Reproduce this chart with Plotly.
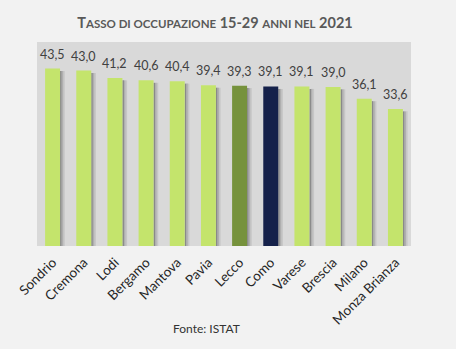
import plotly.graph_objects as go

provinces = ["Sondrio", "Cremona", "Lodi", "Bergamo", "Mantova", "Pavia",
             "Lecco", "Como", "Varese", "Brescia", "Milano", "Monza Brianza"]
values = [43.5, 43.0, 41.2, 40.6, 40.4, 39.4, 39.3, 39.1, 39.1, 39.0, 36.1, 33.6]
labels = ["43,5", "43,0", "41,2", "40,6", "40,4", "39,4", "39,3", "39,1", "39,1", "39,0", "36,1", "33,6"]
highlight = {"Lecco": "#76923c", "Como": "#15214a"}
base_color = "#c4e46c"

colors = [highlight.get(p, base_color) for p in provinces]

fig = go.Figure()

# soft shadow on the right of each bar
shadow_steps = [(0.24, "rgba(110,110,110,0.75)"), (0.29, "rgba(140,140,140,0.55)"),
                (0.34, "rgba(170,170,170,0.4)")]
for off, col in shadow_steps:
    fig.add_trace(go.Bar(
        x=provinces, y=[v - 0.6 for v in values], width=0.05, offset=off,
        marker=dict(color=col, line=dict(width=0)), hoverinfo="skip", showlegend=False))

fig.add_trace(go.Bar(
    x=provinces, y=values, width=0.48, offset=-0.24,
    marker=dict(color=colors, line=dict(width=0)),
    showlegend=False))

pl, pr, pt, pb = 37, 411, 42, 246

annotations = [dict(x=p, y=v, text=t, xref="x", yref="y", showarrow=False,
                    xanchor="center", yanchor="bottom", yshift=5,
                    font=dict(family="Lato", size=12.5, color="#404040"))
               for p, v, t in zip(provinces, values, labels)]
annotations.append(dict(text="Fonte: ISTAT", x=(206 - pl) / (pr - pl),
                        y=(pb - 328) / (pb - pt),
                        xref="paper", yref="paper", showarrow=False,
                        xanchor="center", yanchor="middle",
                        font=dict(family="Lato", size=12, color="#333333")))

title_html = ("T<span style='font-size:11.5px'>ASSO DI OCCUPAZIONE</span> 15-29 "
              "<span style='font-size:11.5px'>ANNI NEL</span> 2021")

fig.update_layout(
    width=456, height=349,
    margin=dict(l=pl, r=456 - pr, t=pt, b=349 - pb),
    paper_bgcolor="#f2f2f2",
    plot_bgcolor="#d9d9d9",
    barmode="overlay",
    title=dict(text=title_html, x=215 / 456, xanchor="center", y=1 - 23 / 349,
               yanchor="middle",
               font=dict(family="Lato", size=14.5, color="#595959", weight="bold")),
    xaxis=dict(tickangle=-45, showgrid=False, showline=False, ticks="",
               ticklabelstandoff=5,
               tickfont=dict(family="Lato", size=13.5, color="#262626")),
    yaxis=dict(range=[0, 50], visible=False, showgrid=False),
    annotations=annotations,
)

fig.write_html("out.html")
